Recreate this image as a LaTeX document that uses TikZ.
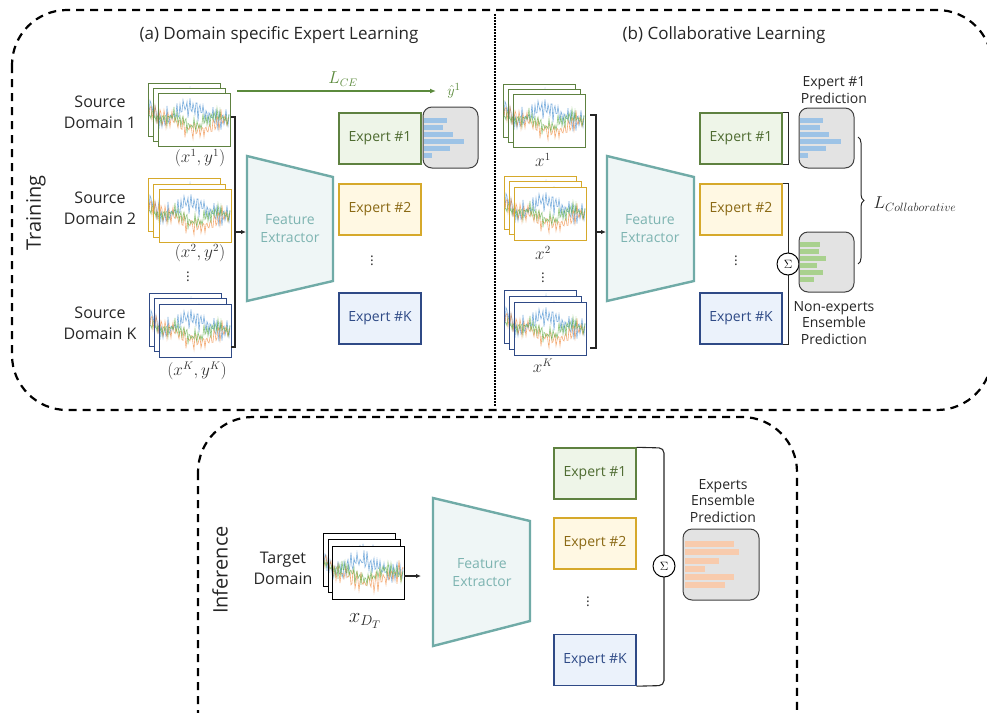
\documentclass[tikz,border=0pt]{standalone}
\usepackage{fontspec}
\setmainfont{Open Sans}
\usetikzlibrary{arrows.meta,decorations.pathreplacing,calc}
\definecolor{gstroke}{HTML}{5E8140}
\definecolor{gfill}{HTML}{EEF5E8}
\definecolor{gtext}{HTML}{4E6B30}
\definecolor{ystroke}{HTML}{D6A92B}
\definecolor{yfill}{HTML}{FFF8E3}
\definecolor{ytext}{HTML}{8A6914}
\definecolor{bstroke}{HTML}{2F4A86}
\definecolor{bfill}{HTML}{EBF2FB}
\definecolor{btext}{HTML}{2E4A86}
\definecolor{festroke}{HTML}{70ABA7}
\definecolor{fefill}{HTML}{EFF6F6}
\definecolor{fetext}{HTML}{7DB4B1}
\definecolor{sblue}{HTML}{5B9BD5}
\definecolor{sorange}{HTML}{F08A3E}
\definecolor{sgreen}{HTML}{5FAE45}
\definecolor{barblue}{HTML}{9DC3E6}
\definecolor{bargreen}{HTML}{A9D18E}
\definecolor{barorange}{HTML}{F8CBAD}
\definecolor{predgray}{HTML}{E3E3E3}
\definecolor{ceg}{HTML}{5B8A3C}
\newcommand\sigframe[4]{%
 \begin{scope}[shift={(#1,#2)}]
  \fill[white] (0,0) rectangle (72,53);
  \begin{scope}
   \clip (0,0) rectangle (72,53);
   \pgfmathsetseed{#4}
   \draw[sblue,opacity=.8,line width=.6pt] plot[domain=1:71,samples=71] (\x,{21+6*sin(6*\x+#4)+13*sin(110*\x)*rnd});
   \draw[sorange,opacity=.7,line width=.6pt] plot[domain=1:71,samples=71] (\x,{31-6*sin(5*\x+#4)+12*sin(95*\x+40)*rnd});
   \draw[sgreen,opacity=.7,line width=.6pt] plot[domain=1:71,samples=71] (\x,{28+5*sin(8*\x+#4+90)+10*sin(125*\x+70)*rnd});
  \end{scope}
  \draw[#3,line width=.9pt] (0,0) rectangle (72,53);
 \end{scope}}
\newcommand\sigstack[7]{% x1 y1 x2 y2 x3 y3 color
 \sigframe{#1}{#2}{#7}{11}\sigframe{#3}{#4}{#7}{37}\sigframe{#5}{#6}{#7}{73}}
\tikzset{
 dbox/.style={draw=black,line width=2.2pt,dash pattern=on 8pt off 6pt,rounded corners=55pt},
 lbl/.style={font=\fontsize{16}{21}\selectfont,align=center,text=black!85},
 small/.style={font=\fontsize{14}{16.5}\selectfont,align=center,text=black!85},
 mlbl/.style={font=\fontsize{16}{17}\selectfont,text=black!80,inner sep=1pt},
 expert/.style={minimum width=82pt,minimum height=51pt,line width=1.4pt,font=\fontsize{14}{16}\selectfont,inner sep=0pt},
 expg/.style={expert,draw=gstroke,fill=gfill,text=gtext},
 expy/.style={expert,draw=ystroke,fill=yfill,text=ytext},
 expb/.style={expert,draw=bstroke,fill=bfill,text=btext},
 fe/.style={draw=festroke,fill=fefill,line width=2.4pt,line join=miter},
 fetxt/.style={font=\fontsize{14}{18}\selectfont,text=fetext,align=center},
 pred/.style={draw=black!75,fill=predgray,line width=1pt,rounded corners=9pt,inner sep=0pt},
 brk/.style={draw=black!85,line width=1.1pt},
 sig/.style={draw=black,line width=1pt,circle,minimum size=22pt,inner sep=0pt,fill=white,font=\fontsize{13}{13}\selectfont},
 vdots/.style={font=\fontsize{14}{14}\selectfont,text=black!80,inner sep=0pt},
}
\begin{document}
\begin{tikzpicture}[x=1pt,y=-1pt]
\useasboundingbox (0,0) rectangle (987,712);
\begin{scope}
\clip (0,0) rectangle (987,712);
\draw[dbox] (12,10) rectangle (992,410);
\draw[dbox] (198,417) rectangle (797,770);
\end{scope}
\draw[black,line width=1.5pt,dash pattern=on 1.5pt off 1.5pt] (495,14) -- (495,406);

% titles
\node[font=\fontsize{17}{20}\selectfont,text=black!85] (ta) at (279,35) {(a) Domain specific Expert Learning};
\node[font=\fontsize{17}{20}\selectfont,text=black!85] (tb) at (724,35) {(b) Collaborative Learning};
\node[font=\fontsize{20}{22}\selectfont,rotate=90,text=black!85] (train) at (36,213) {Training};
\node[font=\fontsize{20}{22}\selectfont,rotate=90,text=black!85] (inf) at (220,570) {Inference};

% ===== Panel (a) =====
\node[lbl] (sd1) at (100,112) {Source\\Domain 1};
\node[lbl] (sd2) at (100,208) {Source\\Domain 2};
\node[lbl] (sdk) at (100,323) {Source\\Domain K};
\sigstack{148}{83}{153}{88}{158}{93}{gstroke}
\sigstack{148}{178}{153}{184}{159}{189}{ystroke}
\sigstack{149}{293}{154}{298}{159}{304}{bstroke}
\node[mlbl] (la1) at (200,158) {$(x^1,y^1)$};
\node[mlbl] (la2) at (200,253) {$(x^2,y^2)$};
\node[mlbl] (lak) at (197,371) {$(x^K,y^K)$};
\node[vdots] (da) at (188,274) {$\vdots$};
\coordinate (a1s) at (231,117);
\coordinate (a1t) at (235,117);
\coordinate (aks) at (231,347);
\coordinate (akt) at (235,347);
\coordinate (amid) at (235,232);
\coordinate (feaL) at (246,232);
\draw[brk] (a1s) -- (a1t) -- (akt) -- (aks);
\draw[brk,-{Latex[length=5pt,width=4.5pt]}] (amid) -- (feaL);
\draw[fe] (247,156) -- (333,177) -- (333,281) -- (247,301) -- cycle;
\node[fetxt] (fea) at (290,229) {Feature\\Extractor};
\node[expg] (ea1) at (380,138.5) {Expert \#1};
\node[expy] (ea2) at (380,209.5) {Expert \#2};
\node[expb] (eak) at (380,318.5) {Expert \#K};
\node[vdots] (dea) at (372,258) {$\vdots$};
\node[pred,minimum width=55pt,minimum height=61pt] (pa) at (450.5,137.5) {};
\foreach \y/\e in {118/447,125/443,132/453,138.5/464,146/450,153/432}
  \fill[barblue] (424,\y) rectangle (\e,\y+5);
\coordinate (ceS) at (237,91);
\coordinate (ceE) at (436,91);
\draw[ceg,line width=1.2pt,-{Latex[length=6pt,width=5pt]}] (ceS) -- (ceE);
\node[font=\fontsize{16}{17}\selectfont,text=ceg] (lce) at (343,79) {$L_{CE}$};
\node[font=\fontsize{15}{16}\selectfont,text=ceg,inner sep=0pt] (yh) at (454,91) {$\hat{y}^1$};

% ===== Panel (b) =====
\sigstack{503}{84}{508}{89}{513}{94}{gstroke}
\sigstack{504}{176}{509}{181}{514}{187}{ystroke}
\sigstack{504}{290}{509}{296}{514}{302}{bstroke}
\node[mlbl] (lb1) at (543,160) {$x^1$};
\node[mlbl] (lb2) at (543,253) {$x^2$};
\node[mlbl] (lbk) at (543,366) {$x^K$};
\node[vdots] (db) at (543,275) {$\vdots$};
\coordinate (b1s) at (590,115);
\coordinate (b1t) at (596,115);
\coordinate (bks) at (590,348);
\coordinate (bkt) at (596,348);
\coordinate (bmid) at (596,232);
\coordinate (febL) at (606,232);
\draw[brk] (b1s) -- (b1t) -- (bkt) -- (bks);
\draw[brk,-{Latex[length=5pt,width=4.5pt]}] (bmid) -- (febL);
\draw[fe] (607,156) -- (694,177) -- (694,281) -- (607,301) -- cycle;
\node[fetxt] (feb) at (650,229) {Feature\\Extractor};
\node[expg] (eb1) at (741,138.5) {Expert \#1};
\node[expy] (eb2) at (741,209.5) {Expert \#2};
\node[expb] (ebk) at (741,318.5) {Expert \#K};
\node[vdots] (deb) at (736,258) {$\vdots$};
\draw[brk] (eb1.north east) -- ++(6,0) |- (eb1.south east);
\draw[brk] (eb2.north east) -- ++(6,0) |- (ebk.south east);
\node[sig] (sb) at (788,264) {$\Sigma$};
\node[pred,minimum width=55pt,minimum height=60pt] (pb1) at (826.5,138) {};
\foreach \y/\e in {118/823,125/820,132/829,138.5/841,146/826,153/808}
  \fill[barblue] (800,\y) rectangle (\e,\y+5);
\node[pred,minimum width=55pt,minimum height=60pt] (pb2) at (826.5,262) {};
\foreach \y/\e in {242/820,249/819,256/826,263/817,269.5/823,277/814}
  \fill[bargreen] (800,\y) rectangle (\e,\y+5);
\node[small] (lpb1) at (834,90) {Expert \#1\\Prediction};
\node[small] (lpb2) at (834,323) {Non-experts\\Ensemble\\Prediction};
\coordinate (brT) at (858,137);
\coordinate (brB) at (858,264);
\draw[black!85,line width=1pt,decorate,decoration={brace,amplitude=6pt}] (brT) -- (brB);
\node[font=\fontsize{17}{18}\selectfont,text=black!85] (lcol) at (915,204) {$L_{Collaborative}$};

% ===== Inference =====
\node[lbl] (td) at (283,568) {Target\\Domain};
\sigframe{323}{533}{black}{19}\sigframe{328}{539}{black}{53}\sigframe{332}{546}{black}{91}
\coordinate (tS) at (404,576);
\coordinate (tE) at (421,576);
\draw[brk,-{Latex[length=5pt,width=4.5pt]}] (tS) -- (tE);
\node[font=\fontsize{21}{22}\selectfont,text=black!85] (xdt) at (365,621) {$x_{D_T}$};
\draw[fe] (433,498) -- (530,521) -- (530,621) -- (433,646) -- cycle;
\node[fetxt] (fec) at (482,573) {Feature\\Extractor};
\node[expg] (ec1) at (595,473.5) {Expert \#1};
\node[expy] (ec2) at (595,543.5) {Expert \#2};
\node[expb] (eck) at (595,660) {Expert \#K};
\node[vdots] (dec) at (588,599) {$\vdots$};
\draw[brk,rounded corners=5pt] (ec1.north east) -- (664,448) -- (664,685.5) -- (eck.south east);
\node[sig] (sc) at (664,566) {$\Sigma$};
\node[pred,minimum width=76pt,minimum height=71pt] (pc) at (721,564.5) {};
\foreach \y/\e in {541/734,549/739,557.5/719,566/705,574/734,582/725}
  \fill[barorange] (685,\y) rectangle (\e,\y+6);
\node[small] (lpc) at (723,501) {Experts\\Ensemble\\Prediction};
\end{tikzpicture}
\end{document}
